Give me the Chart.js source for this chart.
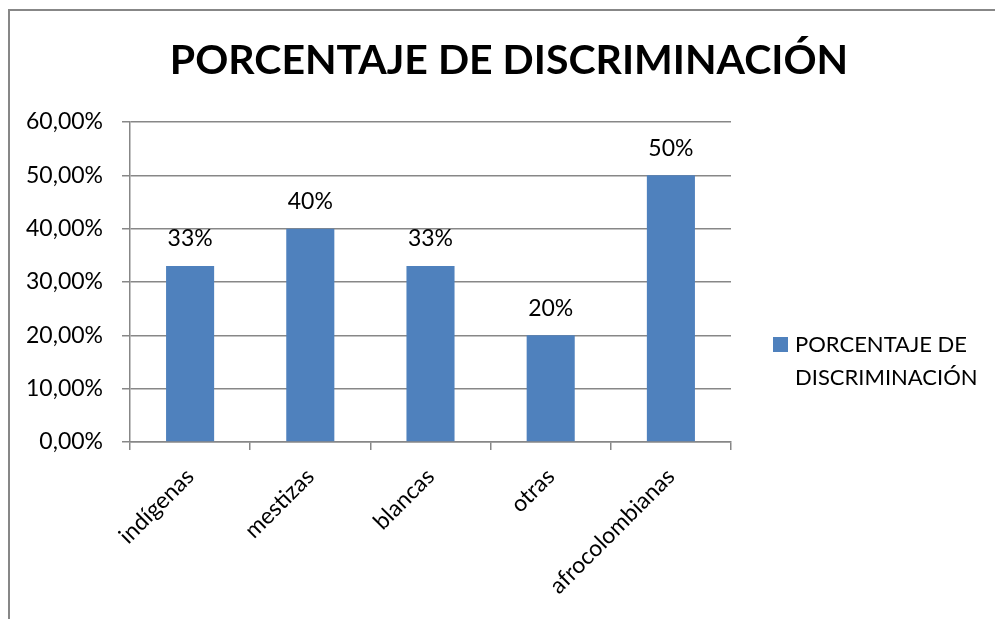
<!DOCTYPE html>
<html>
<head>
<meta charset="utf-8">
<script src="https://cdn.jsdelivr.net/npm/chart.js@4.4.0/dist/chart.umd.min.js"></script>
<style>
  body { margin: 0; background: #fff; }
  #wrap { width: 995px; height: 619px; }
</style>
</head>
<body>
<div id="wrap"><canvas id="myChart" width="995" height="619"></canvas></div>
<script>
var categories = ['indígenas', 'mestizas', 'blancas', 'otras', 'afrocolombianas'];
var values = [0.33, 0.40, 0.33, 0.20, 0.50];
var valueLabels = ['33%', '40%', '33%', '20%', '50%'];
var seriesName = 'PORCENTAJE DE DISCRIMINACIÓN';
var legendLines = ['PORCENTAJE DE', 'DISCRIMINACIÓN'];

var FONT = 'Lato, "Open Sans", sans-serif';

// frame, title, legend and value labels, Excel style
var extras = {
  id: 'extras',
  beforeDraw: function(chart) {
    var c = chart.ctx;
    c.save();
    c.strokeStyle = '#878787';
    c.lineWidth = 2;
    c.beginPath();
    c.moveTo(9, 619);
    c.lineTo(9, 10);
    c.lineTo(995, 10);
    c.stroke();
    c.restore();
  },
  afterDraw: function(chart) {
    var c = chart.ctx;
    c.save();
    c.fillStyle = '#000';
    c.font = 'bold 41px ' + FONT;
    c.textAlign = 'center';
    c.textBaseline = 'middle';
    c.fillText(seriesName, 509, 61);

    // value labels
    c.font = '23px ' + FONT;
    var meta = chart.getDatasetMeta(0);
    meta.data.forEach(function(bar, i) {
      c.fillText(valueLabels[i], bar.x, bar.y - 27);
    });

    // legend
    c.fillStyle = chart.data.datasets[0].backgroundColor;
    c.fillRect(773, 337, 15, 15);
    c.fillStyle = '#000';
    c.textAlign = 'left';
    c.font = '22px ' + FONT;
    c.fillText(legendLines[0], 795, 345);
    c.fillText(legendLines[1], 795, 378);
    c.restore();
  }
};

var ctx = document.getElementById('myChart').getContext('2d');
var myChart = new Chart(ctx, {
  type: 'bar',
  data: {
    labels: categories,
    datasets: [{
      label: seriesName,
      data: values,
      backgroundColor: '#4F81BD',
      categoryPercentage: 1,
      barPercentage: 0.4
    }]
  },
  plugins: [extras],
  options: {
    responsive: false,
    animation: false,
    layout: { padding: { top: 122, right: 264, left: 0, bottom: 0 } },
    plugins: {
      legend: { display: false },
      title: { display: false },
      tooltip: { enabled: false }
    },
    scales: {
      y: {
        min: 0,
        max: 0.6,
        afterFit: function(s) { s.width = 130; },
        ticks: {
          stepSize: 0.1,
          padding: 19,
          color: '#000',
          font: { family: FONT, size: 23 },
          callback: function(v) { return (v * 100).toFixed(2).replace('.', ',') + '%'; }
        },
        grid: { color: '#878787', lineWidth: 1.5, tickLength: 8 },
        border: { color: '#878787', width: 1.5 }
      },
      x: {
        afterFit: function(s) { s.height = 177; },
        ticks: {
          minRotation: 45,
          maxRotation: 45,
          padding: 13,
          color: '#000',
          font: { family: FONT, size: 23 }
        },
        grid: { drawOnChartArea: false, color: '#878787', lineWidth: 1.5, tickLength: 8 },
        border: { color: '#878787', width: 1.5 }
      }
    }
  }
});
</script>
</body>
</html>
